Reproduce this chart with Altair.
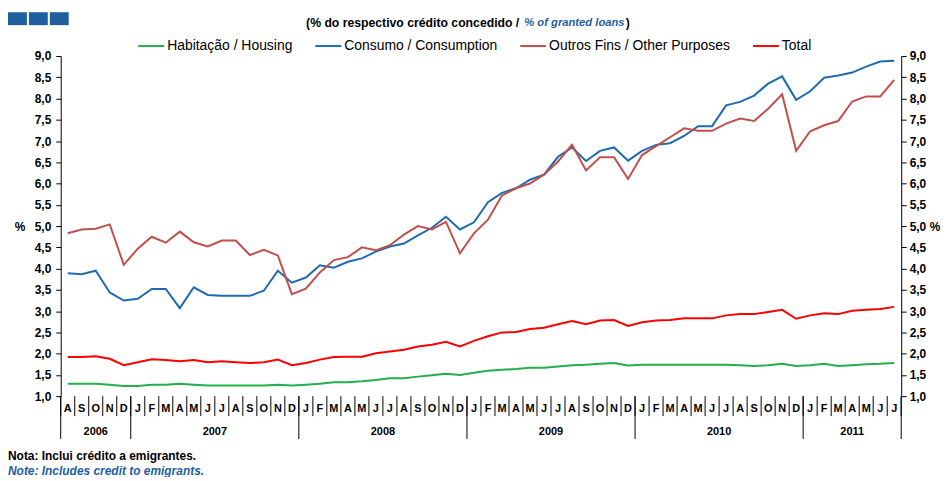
import altair as alt
import pandas as pd

# ---------------- data ----------------
months = ["A", "S", "O", "N", "D"] + ["J", "F", "M", "A", "M", "J", "J", "A", "S", "O", "N", "D"] * 4 + \
         ["J", "F", "M", "A", "M", "J", "J"]
years = ["2006", "2007", "2008", "2009", "2010", "2011"]
year_bounds = [0, 5, 17, 29, 41, 53, 60]

habitacao = [1.29, 1.29, 1.29, 1.27, 1.24, 1.24, 1.27, 1.27, 1.29, 1.27, 1.25, 1.25, 1.25, 1.25, 1.25,
             1.27, 1.25, 1.27, 1.29, 1.33, 1.33,
             1.35, 1.38, 1.42, 1.42, 1.46, 1.49, 1.53, 1.50, 1.55, 1.60, 1.62, 1.64, 1.67, 1.67, 1.70,
             1.73, 1.74, 1.76, 1.78, 1.72,
             1.74, 1.74, 1.74, 1.74, 1.74, 1.74, 1.74, 1.73, 1.71, 1.73, 1.76, 1.71, 1.73, 1.76, 1.71,
             1.73, 1.75, 1.76, 1.78]
consumo = [3.89, 3.87, 3.95, 3.44, 3.25, 3.29, 3.52, 3.52, 3.07, 3.56, 3.38, 3.36, 3.36, 3.36, 3.48,
           3.95, 3.67, 3.79,
           4.08, 4.02, 4.16, 4.24, 4.40, 4.52, 4.59, 4.78, 4.96, 5.22, 4.92, 5.09, 5.56, 5.78, 5.89,
           6.09, 6.21, 6.63, 6.85, 6.53, 6.77,
           6.85, 6.54, 6.77, 6.91, 6.95, 7.12, 7.35, 7.35, 7.84, 7.92, 8.07, 8.35, 8.52, 7.97, 8.17,
           8.49, 8.54, 8.61, 8.75, 8.87, 8.89]
outros = [4.83, 4.92, 4.94, 5.04, 4.09, 4.47, 4.75, 4.61, 4.87, 4.62, 4.52, 4.66, 4.66, 4.32, 4.44,
          4.31, 3.40, 3.53,
          3.91, 4.20, 4.27, 4.50, 4.43, 4.55, 4.80, 5.00, 4.92, 5.10, 4.36, 4.83, 5.15, 5.72, 5.89,
          6.00, 6.21, 6.52, 6.91, 6.31, 6.62,
          6.62, 6.11, 6.67, 6.88, 7.09, 7.30, 7.24, 7.24, 7.41, 7.53, 7.47, 7.76, 8.10, 6.77, 7.23,
          7.37, 7.47, 7.93, 8.05, 8.05, 8.44]
total = [1.92, 1.92, 1.94, 1.88, 1.73, 1.80, 1.87, 1.85, 1.82, 1.85, 1.80, 1.82, 1.80, 1.78, 1.80,
         1.86, 1.73, 1.78, 1.86, 1.92,
         1.93, 1.93, 2.01, 2.05, 2.09, 2.17, 2.21, 2.28, 2.17, 2.30, 2.41, 2.50, 2.51, 2.58, 2.61,
         2.69, 2.77, 2.69, 2.78, 2.79,
         2.65, 2.74, 2.78, 2.79, 2.83, 2.83, 2.83, 2.90, 2.93, 2.93, 2.98, 3.03, 2.82, 2.90, 2.95,
         2.93, 3.01, 3.03, 3.05, 3.10]

series_names = ["Habitação / Housing", "Consumo / Consumption", "Outros Fins / Other Purposes", "Total"]
series_colors = ["#21B04B", "#1F6BB0", "#C0504D", "#FF0000"]
y_ticks = [1.0, 1.5, 2.0, 2.5, 3.0, 3.5, 4.0, 4.5, 5.0, 5.5, 6.0, 6.5, 7.0, 7.5, 8.0, 8.5, 9.0]

subtitle_a = "(% do respectivo crédito concedido /"
subtitle_b = "% of granted loans"
subtitle_c = ")"
note_pt = "Nota: Inclui crédito a emigrantes."
note_en = "Note: Includes credit to emigrants."

# ---------------- layout ----------------
W, H = 845, 342
FONT = "Liberation Sans"
BLUE = "#1F5FA0"

rows = []
for name, vals in zip(series_names, [habitacao, consumo, outros, total]):
    for i, v in enumerate(vals):
        rows.append({"x": i + 0.5, "v": v, "serie": name})
df = pd.DataFrame(rows)

xscale = alt.Scale(domain=[0, 60], nice=False, zero=False)
yscale = alt.Scale(domain=[1, 9], nice=False, zero=False)
label_expr = "replace(format(datum.value, '.1f'), '.', ',')"

axis_common = dict(values=y_ticks, labelExpr=label_expr, title=None, grid=False,
                   domainColor="black", tickColor="black", tickSize=5, labelFont=FONT,
                   labelFontSize=12, labelFontWeight="bold", labelColor="black")

lines = alt.Chart(df).mark_line(strokeWidth=2).encode(
    x=alt.X("x:Q", scale=xscale,
            axis=alt.Axis(labels=False, ticks=False, title=None, grid=False, domainColor="black")),
    y=alt.Y("v:Q", scale=yscale, axis=alt.Axis(orient="left", labelPadding=5, **axis_common)),
    color=alt.Color("serie:N", sort=series_names,
                    scale=alt.Scale(domain=series_names, range=series_colors),
                    legend=alt.Legend(title=None, orient="none", legendX=77, legendY=-24,
                                      direction="horizontal", symbolType="stroke",
                                      symbolStrokeWidth=2, symbolSize=676, labelFont=FONT,
                                      labelFontSize=14, labelColor="black", labelOffset=2,
                                      labelLimit=0, columnPadding=18)),
    order=alt.Order("x:Q"),
)

right_axis = alt.Chart(pd.DataFrame({"x": [0.5, 59.5], "v": [1, 9]})).mark_line(opacity=0).encode(
    x=alt.X("x:Q", scale=xscale, axis=None),
    y=alt.Y("v:Q", scale=yscale, axis=alt.Axis(orient="right", labelPadding=3, **axis_common)),
)

month_df = pd.DataFrame({"x": [i + 0.5 for i in range(len(months))], "m": months})
month_text = alt.Chart(month_df).mark_text(font=FONT, fontSize=11, fontWeight="bold",
                                           color="black", baseline="middle").encode(
    x=alt.X("x:Q", scale=xscale, axis=None), y=alt.value(H + 13), text="m:N")

month_sep = alt.Chart(pd.DataFrame({"x": list(range(len(months) + 1))})).mark_rule(
    color="black", strokeWidth=1).encode(
    x=alt.X("x:Q", scale=xscale, axis=None), y=alt.value(H), y2=alt.value(H + 20))

year_sep = alt.Chart(pd.DataFrame({"x": year_bounds})).mark_rule(
    color="black", strokeWidth=1).encode(
    x=alt.X("x:Q", scale=xscale, axis=None), y=alt.value(H), y2=alt.value(H + 43))

year_df = pd.DataFrame({"x": [(a + b) / 2 for a, b in zip(year_bounds[:-1], year_bounds[1:])],
                        "y": years})
year_text = alt.Chart(year_df).mark_text(font=FONT, fontSize=11, fontWeight="bold",
                                         color="black", baseline="middle").encode(
    x=alt.X("x:Q", scale=xscale, axis=None), y=alt.value(H + 36), text="y:N")


def label(text, x, y, align="left", color="black", italic=False, size=11, weight="bold"):
    return alt.Chart(pd.DataFrame({"t": [text]})).mark_text(
        font=FONT, fontSize=size, fontWeight=weight, fontStyle="italic" if italic else "normal",
        color=color, align=align, baseline="middle").encode(
        x=alt.value(x), y=alt.value(y), text="t:N")


deco = [
    label(subtitle_a, 461, -33, align="right", size=12.3),
    label(subtitle_b, 466, -33, color=BLUE, italic=True, size=11.3),
    label(subtitle_c, 568, -33, size=12.3),
    label("%", -41, 172, align="center", size=12),
    label("%", 879, 172, align="center", size=12),
    label(note_pt, -53, 402, size=12),
    label(note_en, -53, 417, color=BLUE, italic=True, size=12),
]

squares = [
    alt.Chart(pd.DataFrame({"k": [0]})).mark_rect(color=BLUE).encode(
        x=alt.value(x0), x2=alt.value(x0 + 19), y=alt.value(-44), y2=alt.value(-31))
    for x0 in (-53, -32, -11)
]

chart = alt.layer(
    month_sep, year_sep, month_text, year_text, right_axis, lines, *deco, *squares
).resolve_scale(y="independent").properties(
    width=W, height=H,
    autosize=alt.AutoSizeParams(type="none"),
    padding={"left": 53, "top": 47, "right": 40, "bottom": 80},
).configure_view(stroke=None)

chart.save("out.html", embed_options={"renderer": "svg", "actions": False})
